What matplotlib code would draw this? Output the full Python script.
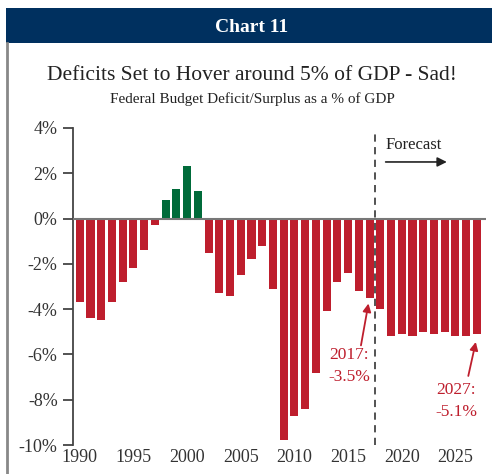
import numpy as np
import matplotlib.pyplot as plt
from matplotlib.patches import Rectangle
from matplotlib.lines import Line2D

# federal budget balance, % of GDP (2018+ is forecast)
years = np.arange(1990, 2028)
balance = [-3.7, -4.4, -4.5, -3.7, -2.8, -2.2, -1.4, -0.3, 0.8, 1.3,
           2.3, 1.2, -1.5, -3.3, -3.4, -2.5, -1.8, -1.2, -3.1, -9.8,
           -8.7, -8.4, -6.8, -4.1, -2.8, -2.4, -3.2, -3.5, -4.0, -5.2,
           -5.1, -5.2, -5.0, -5.1, -5.0, -5.2, -5.2, -5.1]
y_ticks = [4, 2, 0, -2, -4, -6, -8, -10]
x_ticks = [1990, 1995, 2000, 2005, 2010, 2015, 2020, 2025]

RED = '#BE1E2D'
GREEN = '#006B3A'
NAVY = '#00305F'
SERIF = ['Liberation Serif', 'DejaVu Serif']

plt.rcParams['font.family'] = SERIF

W, H = 492, 474
fig = plt.figure(figsize=(W / 100, H / 100), dpi=100)

# header bar + left frame line
fig.patches.append(Rectangle((6 / W, 1 - 43 / H), 1, 35 / H, transform=fig.transFigure,
                             facecolor=NAVY, edgecolor='none'))
fig.lines.append(Line2D([7 / W, 7 / W], [0, 1 - 43 / H], transform=fig.transFigure,
                        color='#888888', lw=2))
fig.text(252 / W, 1 - 27 / H, 'Chart 11', color='white', fontsize=14, fontweight='bold',
         ha='center', va='center')
fig.text(252 / W, 1 - 76 / H, 'Deficits Set to Hover around 5% of GDP - Sad!',
         fontsize=15.5, ha='center', va='center', color='#222222')
fig.text(252 / W, 1 - 99 / H, 'Federal Budget Deficit/Surplus as a % of GDP',
         fontsize=11, ha='center', va='center', color='#222222')

ax = fig.add_axes([73 / W, 1 - 445 / H, (486 - 73) / W, (445 - 128) / H])
colors = [GREEN if v > 0 else RED for v in balance]
ax.bar(years, balance, width=0.75, color=colors, zorder=2)
ax.axhline(0, color='#777777', lw=1.5, zorder=3)
ax.axvline(2017.5, ymin=0, ymax=0.995, color='#444444', lw=1.3, ls=(0, (4, 3)), zorder=4)

ax.set_xlim(1989.37, 2027.85)
ax.set_ylim(-10, 4)
ax.set_yticks(y_ticks)
ax.set_yticklabels([f'{t}%' for t in y_ticks])
ax.set_xticks(x_ticks)
for s in ['top', 'right', 'bottom']:
    ax.spines[s].set_visible(False)
ax.spines['left'].set_color('#444444')
ax.spines['left'].set_linewidth(1.3)
ax.tick_params(axis='y', length=7, width=1.3, color='#444444', labelsize=13,
               labelcolor='#333333', pad=4)
ax.tick_params(axis='x', length=0, labelsize=13, labelcolor='#333333', pad=3)

# forecast label
ax.text(2018.5, 3.25, 'Forecast', fontsize=12, color='#222222', ha='left', va='center')
ax.annotate('', xy=(2024.2, 2.5), xytext=(2018.5, 2.5),
            arrowprops=dict(arrowstyle='-|>', color='#222222', lw=1.2, mutation_scale=14,
                            shrinkA=0, shrinkB=0))

# callouts
arrow_kw = dict(arrowstyle='-|>', color=RED, lw=1.3, mutation_scale=12, shrinkA=0, shrinkB=0)
ax.text(2015.1, -5.65, '2017:\n-3.5%', fontsize=12.5, color=RED, ha='center', va='top',
        linespacing=1.5)
ax.annotate('', xy=(2016.9, -3.75), xytext=(2016.2, -5.6), arrowprops=arrow_kw)
ax.text(2025.05, -7.2, '2027:\n-5.1%', fontsize=12.5, color=RED, ha='center', va='top',
        linespacing=1.5)
ax.annotate('', xy=(2026.9, -5.45), xytext=(2026.2, -6.95), arrowprops=arrow_kw)

fig.savefig('out.png', dpi=100)
